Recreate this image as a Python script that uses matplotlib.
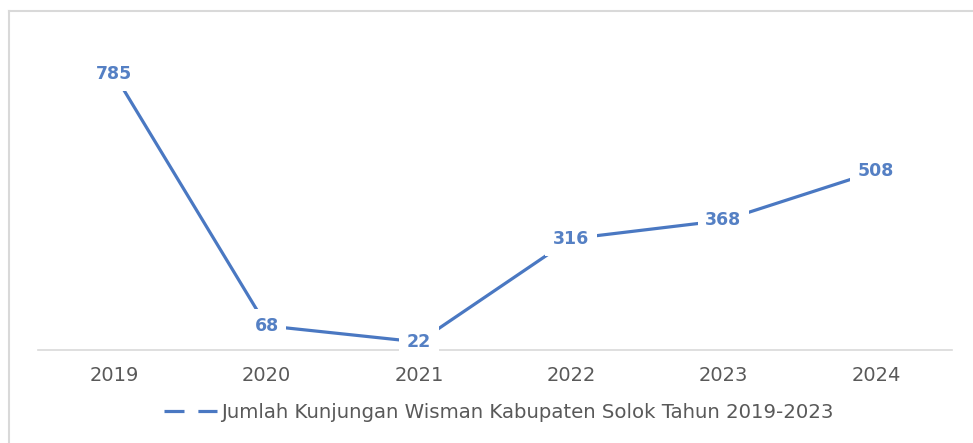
import matplotlib
matplotlib.use("Agg")
import matplotlib.pyplot as plt
from matplotlib.lines import Line2D

# Data
tahun = ["2019", "2020", "2021", "2022", "2023", "2024"]
kunjungan = [785, 68, 22, 316, 368, 508]
label_seri = "Jumlah Kunjungan Wisman Kabupaten Solok Tahun 2019-2023"

WARNA_GARIS = "#4A78C2"
WARNA_LABEL = "#5580C4"
WARNA_TEKS = "#595959"

plt.rcParams["font.family"] = ["DejaVu Sans"]
plt.rcParams["lines.scale_dashes"] = False

W, H = 973, 443
fig = plt.figure(figsize=(W / 100, H / 100), dpi=100)
ax = fig.add_axes([38 / W, (H - 349.7) / H, 914 / W, 316.1 / H])

x = list(range(len(tahun)))
ax.plot(x, kunjungan, color=WARNA_GARIS, lw=2.3, solid_capstyle="butt", zorder=2)

for xi, v in zip(x, kunjungan):
    ax.text(xi, v, str(v), ha="center", va="center", fontsize=12.5,
            fontweight="bold", color=WARNA_LABEL, zorder=3,
            bbox=dict(boxstyle="square,pad=0.45", fc="white", ec="none"))

ax.set_xlim(-0.5, len(tahun) - 0.5)
ax.set_ylim(0, 900)
ax.set_xticks(x)
ax.set_xticklabels(tahun, fontsize=14, color=WARNA_TEKS)
ax.set_yticks([])
ax.tick_params(axis="x", length=0, pad=12)
for s in ["top", "right", "left"]:
    ax.spines[s].set_visible(False)
ax.spines["bottom"].set_color("#D9D9D9")
ax.spines["bottom"].set_linewidth(1.2)
ax.spines["bottom"].set_zorder(1)

# legend with broken line handle
handle = Line2D([0], [0], color=WARNA_GARIS, lw=2.3, linestyle=(0, (14.4, 10)))
fig.legend([handle], [label_seri], loc="center", bbox_to_anchor=(499 / W, 0.068),
           frameon=False, fontsize=14.2, labelcolor=WARNA_TEKS,
           handlelength=2.7, handletextpad=0.2, borderpad=0)

# chart border (left and top only visible)
fig.add_artist(Line2D([8.5 / W, 8.5 / W], [0, (H - 10.5) / H],
                      transform=fig.transFigure, color="#D9D9D9", lw=1.5))
fig.add_artist(Line2D([8.5 / W, 1], [(H - 10.5) / H, (H - 10.5) / H],
                      transform=fig.transFigure, color="#D9D9D9", lw=1.5))

fig.savefig("out.png", dpi=100)
